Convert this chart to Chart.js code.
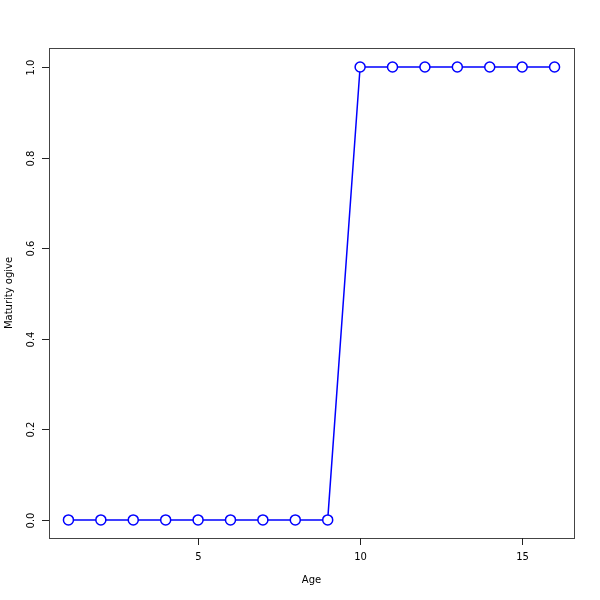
<!DOCTYPE html>
<html>
<head>
<meta charset="utf-8">
<script src="https://cdn.jsdelivr.net/npm/chart.js@4"></script>
<style>
  html, body { margin: 0; padding: 0; background: #fff; }
  #wrap { width: 600px; height: 600px; }
</style>
</head>
<body>
<div id="wrap"><canvas id="ogiveChart" width="600" height="600"></canvas></div>
<script>
// data
const ages = [1, 2, 3, 4, 5, 6, 7, 8, 9, 10, 11, 12, 13, 14, 15, 16];
const maturity = [0, 0, 0, 0, 0, 0, 0, 0, 0, 1, 1, 1, 1, 1, 1, 1];
const xTicks = [5, 10, 15];
const yTicks = [0, 0.2, 0.4, 0.6, 0.8, 1.0];

const FONT = '10px "DejaVu Sans", sans-serif';

// R-style box, ticks and labels
const rAxes = {
    id: 'rAxes',
    afterDraw(chart) {
        const ctx = chart.ctx;
        const a = chart.chartArea;
        const xs = chart.scales.x;
        const ys = chart.scales.y;
        ctx.save();
        ctx.strokeStyle = '#444';
        ctx.lineWidth = 1;
        ctx.strokeRect(a.left + 0.5, a.top + 0.5, a.right - a.left, a.bottom - a.top);

        ctx.fillStyle = '#000';
        ctx.font = FONT;
        ctx.strokeStyle = '#222';

        // x ticks
        ctx.textAlign = 'center';
        ctx.textBaseline = 'middle';
        xTicks.forEach(t => {
            const px = Math.round(xs.getPixelForValue(t)) + 0.5;
            ctx.beginPath();
            ctx.moveTo(px, a.bottom);
            ctx.lineTo(px, a.bottom + 7);
            ctx.stroke();
            ctx.fillText(String(t), px, a.bottom + 19);
        });
        ctx.fillText('Age', (a.left + a.right) / 2, 580);

        // y ticks
        yTicks.forEach(t => {
            const py = Math.round(ys.getPixelForValue(t)) + 0.5;
            ctx.beginPath();
            ctx.moveTo(a.left, py);
            ctx.lineTo(a.left - 7, py);
            ctx.stroke();
            ctx.save();
            ctx.translate(a.left - 18, py);
            ctx.rotate(-Math.PI / 2);
            ctx.fillText(t.toFixed(1), 0, 0);
            ctx.restore();
        });
        ctx.save();
        ctx.translate(9, (a.top + a.bottom) / 2);
        ctx.rotate(-Math.PI / 2);
        ctx.fillText('Maturity ogive', 0, 0);
        ctx.restore();
        ctx.restore();
    }
};

new Chart(document.getElementById('ogiveChart'), {
    type: 'line',
    data: {
        datasets: [{
            label: 'Maturity ogive',
            data: ages.map((a, i) => ({ x: a, y: maturity[i] })),
            borderColor: '#0000ff',
            borderWidth: 1.5,
            backgroundColor: '#ffffff',
            pointBackgroundColor: '#ffffff',
            pointBorderColor: '#0000ff',
            pointBorderWidth: 1.5,
            pointRadius: 5,
            tension: 0
        }]
    },
    options: {
        responsive: false,
        animation: false,
        layout: { padding: { left: 49, right: 26, top: 48, bottom: 62 } },
        plugins: { legend: { display: false }, tooltip: { enabled: false } },
        scales: {
            x: { type: 'linear', min: 0.4, max: 16.6, display: false },
            y: { type: 'linear', min: -0.04, max: 1.042, display: false }
        }
    },
    plugins: [rAxes]
});
</script>
</body>
</html>
